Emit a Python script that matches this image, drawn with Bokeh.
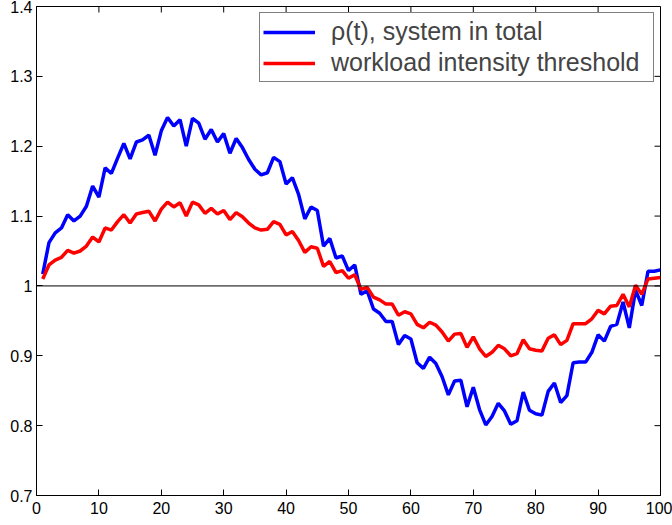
import math
from bokeh.plotting import figure
from bokeh.models import Range1d, FixedTicker, Span, Legend, LegendItem
from bokeh.embed import file_html
from bokeh.resources import INLINE

# ---- data ----
t = list(range(1, 101))
rho_total = [
    1.017, 1.062, 1.076, 1.083, 1.102, 1.093, 1.100, 1.114, 1.143, 1.127,
    1.169, 1.161, 1.183, 1.204, 1.182, 1.206, 1.209, 1.216, 1.187, 1.222,
    1.241, 1.229, 1.238, 1.200, 1.240, 1.233, 1.210, 1.224, 1.206, 1.218,
    1.190, 1.211, 1.198, 1.181, 1.167, 1.159, 1.162, 1.184, 1.178, 1.146,
    1.155, 1.131, 1.096, 1.113, 1.108, 1.057, 1.068, 1.040, 1.043, 1.022,
    1.030, 0.988, 0.993, 0.967, 0.961, 0.949, 0.949, 0.916, 0.929, 0.924,
    0.890, 0.882, 0.898, 0.889, 0.870, 0.844, 0.864, 0.865, 0.827, 0.855,
    0.823, 0.801, 0.813, 0.832, 0.821, 0.802, 0.807, 0.848, 0.822, 0.817,
    0.815, 0.849, 0.861, 0.833, 0.843, 0.890, 0.891, 0.891, 0.905, 0.930,
    0.921, 0.942, 0.945, 0.977, 0.940, 0.994, 0.972, 1.021, 1.021, 1.023,
]
threshold = [
    1.010, 1.030, 1.037, 1.041, 1.051, 1.047, 1.050, 1.057, 1.070, 1.063,
    1.083, 1.080, 1.092, 1.102, 1.090, 1.103, 1.105, 1.107, 1.093, 1.110,
    1.120, 1.113, 1.119, 1.100, 1.120, 1.116, 1.104, 1.111, 1.103, 1.108,
    1.095, 1.105, 1.099, 1.090, 1.083, 1.080, 1.081, 1.092, 1.088, 1.073,
    1.078, 1.065, 1.048, 1.056, 1.054, 1.028, 1.035, 1.019, 1.022, 1.011,
    1.016, 0.995, 0.998, 0.984, 0.980, 0.974, 0.974, 0.958, 0.963, 0.960,
    0.945, 0.940, 0.948, 0.944, 0.934, 0.921, 0.931, 0.932, 0.912, 0.927,
    0.910, 0.899, 0.905, 0.915, 0.910, 0.900, 0.903, 0.923, 0.910, 0.908,
    0.907, 0.925, 0.930, 0.916, 0.922, 0.946, 0.946, 0.946, 0.953, 0.965,
    0.960, 0.971, 0.972, 0.988, 0.970, 1.001, 0.988, 1.010, 1.011, 1.012,
]
reference_level = 1.0
x_min, x_max = 0, 100
y_min, y_max = 0.7, 1.4
x_ticks = [0, 10, 20, 30, 40, 50, 60, 70, 80, 90, 100]
y_ticks = [0.7, 0.8, 0.9, 1.0, 1.1, 1.2, 1.3, 1.4]
y_tick_labels = ["0.7", "0.8", "0.9", "1", "1.1", "1.2", "1.3", "1.4"]
series_labels = ["\u03c1(t), system in total", "workload intensity threshold"]

FONT = "Liberation Sans"

p = figure(width=672, height=525, output_backend="svg", toolbar_location=None,
           x_range=Range1d(x_min, x_max), y_range=Range1d(y_min, y_max))
p.min_border_left = 36
p.min_border_right = 12
p.min_border_top = 6
p.min_border_bottom = 30
p.background_fill_color = "white"
p.border_fill_color = "white"
p.outline_line_color = "black"
p.outline_line_width = 1
p.xgrid.visible = False
p.ygrid.visible = False

for ax, ticks in ((p.xaxis[0], x_ticks), (p.yaxis[0], y_ticks)):
    ax.ticker = FixedTicker(ticks=ticks)
    ax.major_tick_in = 6
    ax.major_tick_out = 0
    ax.minor_tick_line_color = None
    ax.axis_line_color = "black"
    ax.major_tick_line_color = "black"
    ax.major_label_text_font = FONT
    ax.major_label_text_font_size = "16px"
    ax.major_label_text_color = "black"
p.xaxis[0].major_label_standoff = 6
p.yaxis[0].major_label_standoff = 4
p.yaxis[0].major_label_overrides = {v: s for v, s in zip(y_ticks, y_tick_labels)}

# mirrored inward ticks on the top and right edges of the box
p.ray(x=x_ticks, y=[y_max] * len(x_ticks), length=6, length_units="screen",
      angle=-math.pi / 2, line_color="black", line_width=1)
p.ray(x=[x_max] * len(y_ticks), y=y_ticks, length=6, length_units="screen",
      angle=math.pi, line_color="black", line_width=1)

p.add_layout(Span(location=reference_level, dimension="width",
                  line_color="black", line_width=1))

r_blue = p.line(t, rho_total, line_color="#0000ff", line_width=3.5)
r_red = p.line(t, threshold, line_color="#ff0000", line_width=3.5)

legend = Legend(items=[LegendItem(label=series_labels[0], renderers=[r_blue]),
                       LegendItem(label=series_labels[1], renderers=[r_red])],
                location="top_right")
legend.margin = 6
legend.padding = 3
legend.spacing = 0
legend.glyph_width = 52
legend.label_standoff = 16
legend.label_height = 31
legend.label_width = 319
legend.label_text_font = FONT
legend.label_text_font_size = "25px"
legend.border_line_color = "black"
legend.border_line_width = 1
legend.background_fill_color = "white"
legend.background_fill_alpha = 1
p.add_layout(legend, "center")

open("out.html", "w").write(file_html(p, INLINE))
